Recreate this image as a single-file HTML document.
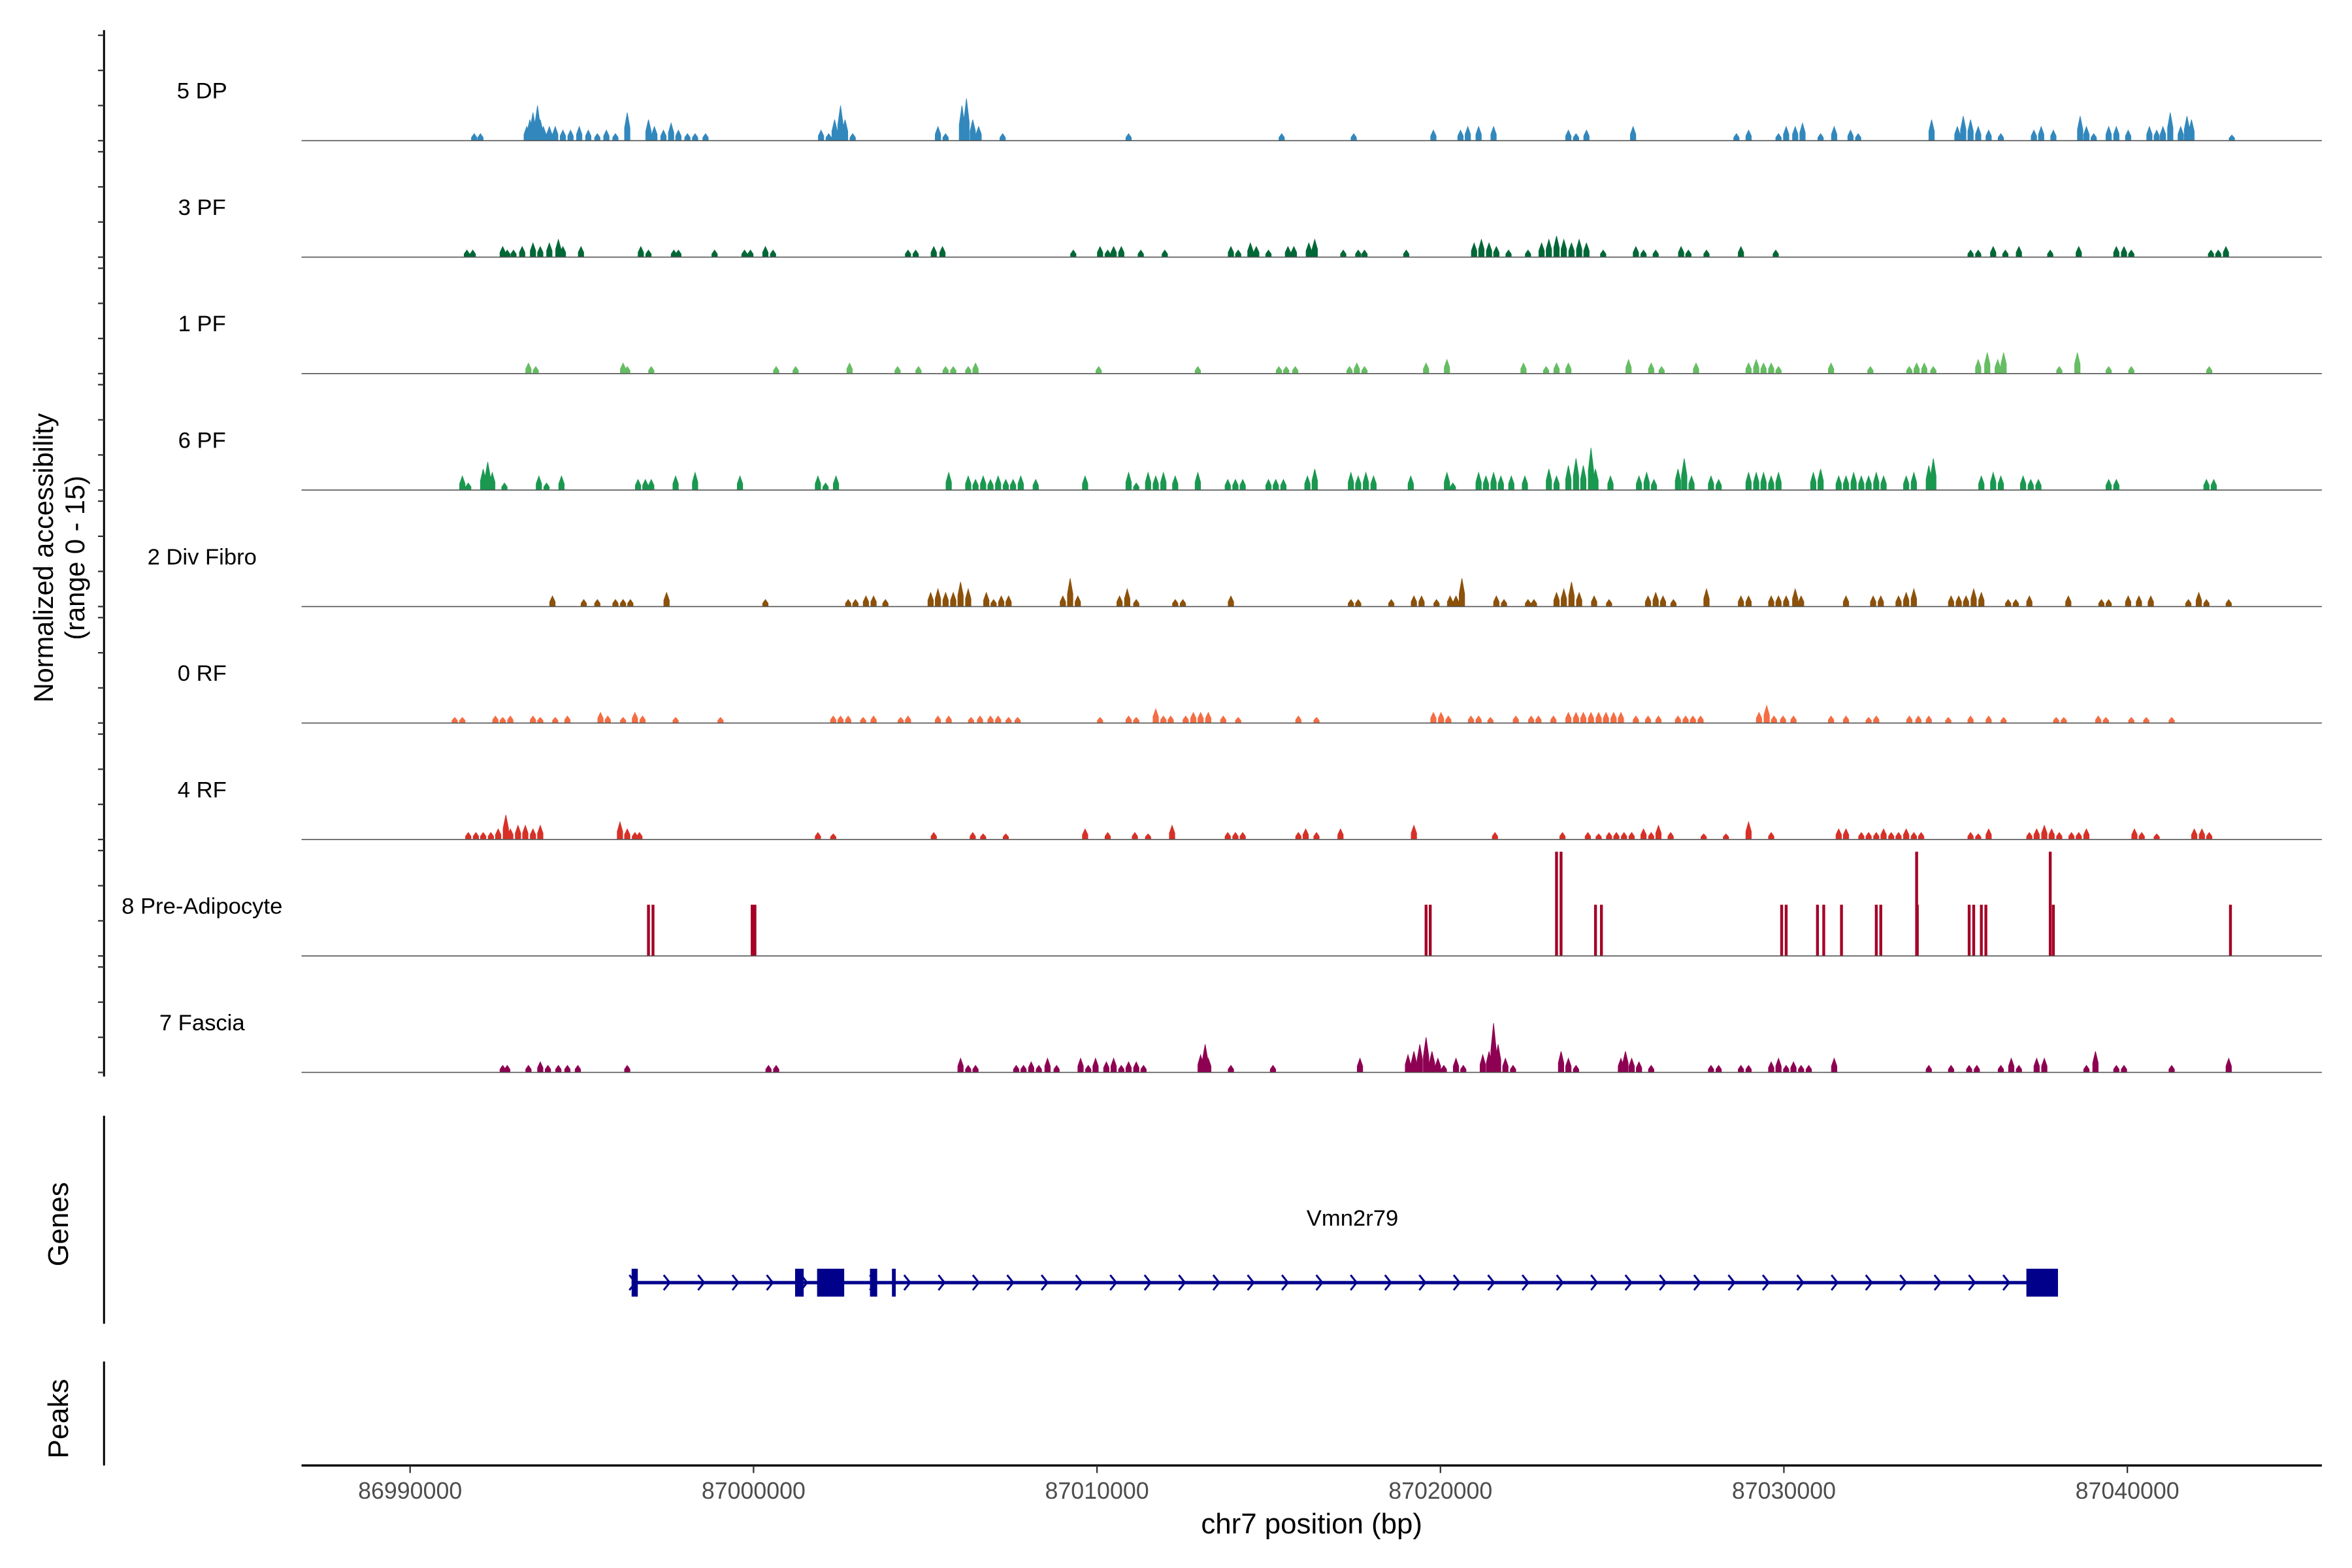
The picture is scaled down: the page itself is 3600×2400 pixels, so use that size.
<!DOCTYPE html>
<html><head><meta charset="utf-8"><title>Chromatin accessibility tracks</title>
<style>html,body{margin:0;padding:0;background:#fff}svg{display:block}</style></head>
<body>
<svg id="chart" width="3600" height="2400" viewBox="0 0 1560 1040" xmlns="http://www.w3.org/2000/svg" font-family="Liberation Sans, Arial, sans-serif">
<g id="axes"></g>
<g id="tracks"></g>
<g id="genes"></g>
</svg>
<script>
// ---- data (positions in kb offset from 86,990,000; heights in normalized accessibility 0-15) ----
const trackNames = ["5 DP","3 PF","1 PF","6 PF","2 Div Fibro","0 RF","4 RF","8 Pre-Adipocyte","7 Fascia"];
const trackColors = ["#3288bd","#006837","#66bd63","#1a9850","#8c510a","#f46d43","#d73027","#a50026","#8e0152"];
const xTickValues = [86990000,87000000,87010000,87020000,87030000,87040000];
const xTickLabels = ["86990000","87000000","87010000","87020000","87030000","87040000"];

const pos5DP=[1.98,2.16,3.49,3.58,3.67,3.80,3.88,3.97,4.14,4.31,4.53,4.75,5.00,5.26,5.52,5.78,6.04,6.38,6.99,7.16,7.42,7.64,7.85,8.11,8.33,8.63,11.95,12.17,12.34,12.51,12.64,12.86,15.31,15.53,16.0,16.13,16.31,16.48,17.17,20.79,25.19,27.26,29.55,30.33,30.54,30.85,31.28,33.43,33.65,33.95,35.29,38.26,38.61,39.47,39.69,39.95,40.16,40.68,41.07,41.54,41.76,43.87,44.61,44.78,44.99,45.21,45.51,45.86,46.81,47.02,47.37,48.14,48.32,48.53,48.96,49.18,49.52,50.13,50.34,50.52,50.73,51.03,51.21,51.34,52.50];
const h5DP=[1,1,2,3,4,5,3,2,2,2,1.5,1.5,2,1.5,1,1.5,1,4,3,2,1.5,2.5,1.5,1,1,1,1.5,1,3,5,3,1,2,1,5,6,3,2,1,1,1,1,1.5,1.5,2,2,2,1.5,1,1.5,2,1,1.5,1,2,2,2.5,1,2,1.5,1,3,2,3.5,3,2,1.5,1,1.5,2,1.5,3.5,2,1,2,2,1.5,2,1.5,2,4,2,3.5,3,0.8];

const pos3PF=[1.77,1.94,2.80,2.93,3.11,3.36,3.67,3.88,4.14,4.40,4.53,5.05,6.77,6.99,7.72,7.85,8.89,9.75,9.92,10.35,10.57,14.45,14.67,15.19,15.44,19.2,19.97,20.19,20.36,20.58,21.14,21.83,23.73,23.94,24.29,24.46,24.81,25.37,25.54,25.97,26.14,26.96,27.39,27.57,28.77,30.72,30.93,31.15,31.36,31.71,32.27,32.66,32.87,33.09,33.30,33.52,33.74,33.95,34.43,35.37,35.59,35.94,36.67,36.88,37.40,38.39,39.39,44.99,45.21,45.64,45.99,46.38,47.28,48.10,49.18,49.40,49.61,51.9,52.11,52.33];
const h3PF=[1,1,1.5,1,1,1.5,2,1.5,2,2.5,1.5,1.5,1.5,1,1,1,1,1,1,1.5,1,1,1,1.5,1.5,1,1.5,1,1.5,1.5,1,1,1.5,1,2,1.5,1,1.5,1.5,2,2.5,1,1,1,1,2,2.5,2,1.5,1,1,2,2.5,3,2.5,2,2.5,2,1,1.5,1,1,1.5,1,1,1.5,1,1,1,1.5,1,1.5,1,1.5,1.5,1.5,1,1,1,1.5];

const pos1PF=[3.54,3.75,6.26,6.38,7.07,10.66,11.22,12.77,14.15,14.75,15.53,15.75,16.18,16.39,19.93,22.78,25.11,25.32,25.58,27.14,27.35,27.57,29.34,29.94,32.14,32.79,33.09,33.43,35.16,35.81,36.11,37.10,38.61,38.83,39.04,39.26,39.47,40.98,42.11,43.23,43.44,43.66,43.92,45.21,45.47,45.77,45.94,47.54,48.06,48.96,49.61,51.85];
const h1PF=[1.5,1,1.5,1,1,1,1,1.5,1,1,1,1,1,1.5,1,1,1,1,1,1,1.5,1,1.5,2,1.5,1,1.5,1.5,2,1.5,1,1.5,1.5,2,1.5,1.5,1,1.5,1,1,1.5,1.5,1,2,3,2,3,1,3,1,1,1];

const pos6PF=[1.64,1.81,2.24,2.37,2.50,2.85,3.84,4.06,4.49,6.69,6.90,7.07,7.77,8.33,9.62,11.86,12.08,12.38,15.62,16.18,16.39,16.61,16.82,17.04,17.26,17.47,17.69,18.12,19.54,20.79,21.01,21.35,21.57,21.79,22.13,22.78,23.64,23.86,24.07,24.81,25.02,25.24,25.93,26.14,27.18,27.39,27.61,27.83,28.90,29.94,30.11,30.85,31.06,31.28,31.49,31.79,32.18,32.87,33.09,33.43,33.65,33.86,34.08,34.21,34.64,35.46,35.68,35.89,36.58,36.76,36.97,37.53,37.75,38.61,38.83,39.04,39.26,39.47,40.47,40.68,41.20,41.41,41.63,41.85,42.06,42.28,42.49,43.14,43.36,43.79,43.92,45.30,45.64,45.86,46.50,46.72,46.94,48.96,49.18,51.77,51.98];
const h6PF=[2,1,3,4,2.5,1,2,1,2,1.5,1.5,1.5,2,2.5,2,2,1,2,2.5,2,1.5,2,1.5,2,1.5,1.5,2,1.5,2,2.5,1,2.5,2,2.5,2,2.5,1.5,1.5,1.5,1.5,1.5,1.5,2,3,2.5,2,2.5,2,2,2.5,1,2.5,2,2.5,2,2,2,3,2,3.5,4.5,3.5,6,3,2,2,2.5,1.5,3,4.5,2,2,1.5,2.5,2.5,2.5,2,2.5,2.5,3,2,2,2.5,2,2,2.5,2,2,2.5,3.5,4.5,2,2.5,2,2,1.5,1.5,1.5,1.5,1.5,1.5];

const posDiv=[4.23,5.13,5.52,6.04,6.26,6.47,7.51,10.35,12.73,12.94,13.24,13.46,13.80,15.10,15.31,15.53,15.75,15.96,16.18,16.70,16.91,17.13,17.34,18.90,19.11,19.33,20.53,20.75,21.01,22.13,22.35,23.73,27.18,27.39,28.34,28.99,29.21,29.64,30.03,30.20,30.37,31.36,31.58,32.27,32.44,33.09,33.30,33.52,33.74,34.17,34.60,35.72,35.94,36.15,36.45,37.40,38.39,38.61,39.26,39.47,39.69,39.95,40.12,41.41,42.19,42.41,42.92,43.14,43.36,44.43,44.65,44.86,45.08,45.30,46.07,46.29,46.68,47.80,48.75,48.96,49.52,49.83,50.17,51.25,51.55,51.77,52.41];
const hDiv=[1.5,1,1,1,1,1,2,1,1,1,1.5,1.5,1,2,2.5,2,2,3.5,2.5,2,1,1.5,1.5,1.5,4,1.5,1.5,2.5,1,1,1,1.5,1,1,1,1.5,1.5,1,1.5,1.5,4,1.5,1,1,1,2,2.5,3.5,2,1.5,1,1.5,2,1.5,1,2.5,1.5,1.5,1.5,1.5,1.5,2.5,1.5,1.5,1.5,1.5,1.5,2,2.5,1.5,1.5,1.5,2.5,2,1,1,1.5,1.5,1,1,1.5,1.5,1.5,1,2,1,1];

const pos0RF=[1.42,1.64,2.59,2.80,3.02,3.67,3.88,4.31,4.66,5.61,5.82,6.26,6.60,6.82,7.77,9.06,12.30,12.51,12.73,13.16,13.46,14.24,14.45,15.31,15.62,16.26,16.52,16.82,17.04,17.34,17.60,19.97,20.79,21.01,21.57,21.79,22.0,22.43,22.65,22.86,23.08,23.51,23.94,25.67,26.19,29.55,29.77,29.98,30.63,30.85,31.19,31.92,32.36,32.57,33.0,33.43,33.65,33.86,34.08,34.30,34.51,34.73,34.94,35.37,35.72,36.02,36.58,36.80,37.01,37.23,38.91,39.13,39.34,39.60,39.90,40.98,41.41,42.06,42.28,43.23,43.49,43.79,44.35,44.99,45.51,45.94,47.45,47.67,48.66,48.88,49.61,50.04,50.77];
const h0RF=[0.8,0.8,1,0.8,1,1,0.8,0.8,1,1.5,1,0.8,1.5,1,0.8,0.8,1,1,1,0.8,1,0.8,1,1,1,0.8,1,1,1,0.8,0.8,0.8,1,0.8,2,1,1,1,1.5,1.5,1.5,1,0.8,1,0.8,1.5,1.5,1,1,1,0.8,1,1,1,1,1.5,1.5,1.5,1.5,1.5,1.5,1.5,1.5,1,1,1,1,1,1,1,1.5,2.5,1,1,1,1,1,0.8,1,1,1,1,0.8,1,1,0.8,0.8,0.8,1,0.8,0.8,0.8,0.8];

const pos4RF=[1.81,2.03,2.24,2.46,2.67,2.89,3.02,3.24,3.45,3.67,3.88,6.17,6.38,6.60,6.73,11.86,12.30,15.19,16.31,16.61,17.26,19.54,20.19,20.97,21.35,22.04,23.64,23.86,24.07,25.67,25.88,26.19,26.88,28.99,31.32,33.26,33.99,34.30,34.60,34.81,35.03,35.25,35.59,35.81,36.02,36.37,37.32,37.96,38.61,39.26,41.20,41.41,41.85,42.06,42.28,42.49,42.71,42.92,43.14,43.36,43.57,44.99,45.21,45.51,46.68,46.89,47.11,47.32,47.54,47.89,48.10,48.32,49.70,49.91,50.34,51.42,51.64,51.85];
const h4RF=[1,1,1,1,1.5,3.5,1.5,2,2,1.5,2,2.5,1.5,1,1,1,0.8,1,1,0.8,0.8,1.5,1,1,0.8,2,1,1,1,1,1.5,1,1.5,2,1,1,1,0.8,1,1,1,1,1.5,1,2,1,0.8,0.8,2.5,1,1.5,1.5,1,1,1,1.5,1,1,1.5,1,1,1,0.8,1.5,1,1.5,2,1.5,1,1,1,1.5,1.5,1,0.8,1.5,1.5,1];

const posPre=[6.99,7.12,9.97,10.05,29.34,29.46,33.09,33.22,34.21,34.38,39.56,39.69,40.59,40.77,41.28,42.28,42.41,43.44,43.46,44.95,45.08,45.30,45.43,47.28,47.37,52.46];
const hPre=[7.25,7.25,7.25,7.25,7.25,7.25,14.8,14.8,7.25,7.25,7.25,7.25,7.25,7.25,7.25,7.25,7.25,14.8,7.25,7.25,7.25,7.25,7.25,14.8,7.25,7.25];

const posFas=[2.80,2.93,3.54,3.88,4.10,4.40,4.66,4.96,6.38,10.44,10.66,15.96,16.18,16.39,17.56,17.77,17.99,18.21,18.46,18.72,19.41,19.63,19.84,20.15,20.36,20.58,20.79,21.01,21.22,22.86,22.99,23.08,23.73,24.94,27.44,28.82,28.99,29.16,29.34,29.51,29.68,29.85,30.20,30.41,30.97,31.15,31.28,31.41,31.62,31.84,33.22,33.43,33.65,34.94,35.07,35.25,35.46,35.81,37.53,37.75,38.39,38.61,39.26,39.47,39.69,39.90,40.12,40.34,41.07,43.79,44.43,44.95,45.17,45.86,46.16,46.38,46.89,47.11,48.32,48.58,49.18,49.40,50.77,52.41];
const hFas=[1,1,1,1.5,1,1,1,1,1,1,1,2,1,1,1,1,1.5,1,2,1,2,1,2,1.5,2,1,1.5,1.5,1,2.5,4,2,1,1,2,2.5,3,4,5,3,2,1,2,1,2.5,3,7,4,2,1,3,2,1,2,3,2,1.5,1,1,1,1,1,1.5,2,1,1.5,1,1,2,1,1,1,1,1,2,1,2,2,1,3,1,1,1,2];

// gene model (kb offset from 86,990,000, true axis)
const geneName = "Vmn2r79";
const geneStart = 6.45, geneEnd = 47.98;
const exonStarts = [6.45,11.21,11.85,13.39,14.03,47.06];
const exonEnds   = [6.63,11.46,12.64,13.60,14.14,47.98];

const trackPos = [pos5DP,pos3PF,pos1PF,pos6PF,posDiv,pos0RF,pos4RF,posPre,posFas];
const trackH   = [h5DP,h3PF,h1PF,h6PF,hDiv,h0RF,h4RF,hPre,hFas];

// ---- scales ----
const NS='http://www.w3.org/2000/svg';
const X0=272, PXKB=22.78, CAL_A=1.013, CAL_B=-0.14;
const xGene = kb => X0 + kb*PXKB;
const xKb = kb => xGene(kb*CAL_A + CAL_B);
const xBp = bp => X0 + (bp-86990000)/1000*PXKB;
const PLOT_L=200, PLOT_R=1540, BASE0=93.3, TRACK_STEP=77.25, YUNIT=4.66;
const yBase = i => BASE0 + i*TRACK_STEP;
const yVal = (i,v) => yBase(i) - Math.min(v,15)*YUNIT;

function mk(tag, attrs, parent){ const e=document.createElementNS(NS,tag); for(const k in attrs) e.setAttribute(k,attrs[k]); parent.appendChild(e); return e; }
const axes=document.getElementById('axes'), tracks=document.getElementById('tracks'), genes=document.getElementById('genes');

let l=mk('line',{x1:69,y1:20,x2:69,y2:714,stroke:'#000','stroke-width':1.3},axes);
 
for(let i=0;i<9;i++){ for(let t=0;t<=15;t+=5){
  const tk=mk('line',{x1:65,x2:69,y1:yVal(i,t),y2:yVal(i,t),stroke:'#333','stroke-width':1},axes);
    } }
l=mk('line',{x1:69,y1:740,x2:69,y2:878,stroke:'#000','stroke-width':1.3},axes);
 
l=mk('line',{x1:69,y1:903,x2:69,y2:972,stroke:'#000','stroke-width':1.3},axes);
 

let t=mk('text',{x:0,y:0,'font-size':18,'text-anchor':'middle',transform:'translate(35,370) rotate(-90)'},axes);
t.textContent='Normalized accessibility';
 
t=mk('text',{x:0,y:0,'font-size':18,'text-anchor':'middle',transform:'translate(56,370) rotate(-90)'},axes);
t.textContent='(range 0 - 15)';
 
t=mk('text',{x:0,y:0,'font-size':19,'text-anchor':'middle',transform:'translate(45,812) rotate(-90)'},axes);
t.textContent='Genes';
 
t=mk('text',{x:0,y:0,'font-size':19,'text-anchor':'middle',transform:'translate(45,941) rotate(-90)'},axes);
t.textContent='Peaks';
 

l=mk('line',{x1:PLOT_L,y1:972,x2:PLOT_R,y2:972,stroke:'#000','stroke-width':1.5},axes);
 
xTickValues.forEach((v,i)=>{
  const x=xBp(v);
  const tk=mk('line',{x1:x,x2:x,y1:972,y2:977,stroke:'#333','stroke-width':1},axes);
   
  const tl=mk('text',{x:x,y:994,'font-size':15.5,fill:'#4d4d4d','text-anchor':'middle'},axes);
  tl.textContent=xTickLabels[i];
   
});
t=mk('text',{x:870,y:1017,'font-size':19,'text-anchor':'middle'},axes);
t.textContent='chr7 position (bp)';
 

trackNames.forEach((name,i)=>{
  const g=mk('g',{},tracks);
  
  
  const lab=mk('text',{x:134,y:yBase(i)-28,'font-size':15,'text-anchor':'middle'},g);
  lab.textContent=name;
   
  const b=yBase(i);
  const P=trackPos[i], H=trackH[i];
  let d='';
  const isBar = (i===7);
  for(let j=0;j<P.length;j++){
    const x=xKb(P[j]), top=yVal(i,H[j]);
    if(isBar){ const w=1.5; d+=`M${x-w/2},${b}V${top}H${x+w/2}V${b}Z`; }
    else { const w=3.6, mid=b-(b-top)*0.45; d+=`M${x-w/2},${b}V${mid}L${x},${top}L${x+w/2},${mid}V${b}Z`; }
  }
  const p=mk('path',{d:d,fill:trackColors[i],stroke:trackColors[i],'stroke-width':0.4},g);
   
  const bl=mk('line',{x1:PLOT_L,x2:PLOT_R,y1:b,y2:b,stroke:'#555','stroke-width':0.7},g);
   
});

const GY=850.7;
t=mk('text',{x:897,y:813,'font-size':15,'text-anchor':'middle'},genes);
t.textContent=geneName;
 
l=mk('line',{x1:xGene(geneStart),x2:xGene(geneEnd),y1:GY,y2:GY,stroke:'#00008b','stroke-width':2.2},genes);
 
let cd='';
for(let k=geneStart; k<geneEnd-0.6; k+=1){ const x=xGene(k)+1; cd+=`M${x-2.5},${GY-5}L${x+1.5},${GY}L${x-2.5},${GY+5}`; }
const ch=mk('path',{d:cd,fill:'none',stroke:'#00008b','stroke-width':1.3},genes);
 
exonStarts.forEach((s,k)=>{
  const x1=xGene(s), x2=Math.max(xGene(exonEnds[k]), x1+2.4);
  const r=mk('rect',{x:x1,y:841.5,width:x2-x1,height:18.5,fill:'#00008b'},genes);
   
});
</script>
</body></html>
